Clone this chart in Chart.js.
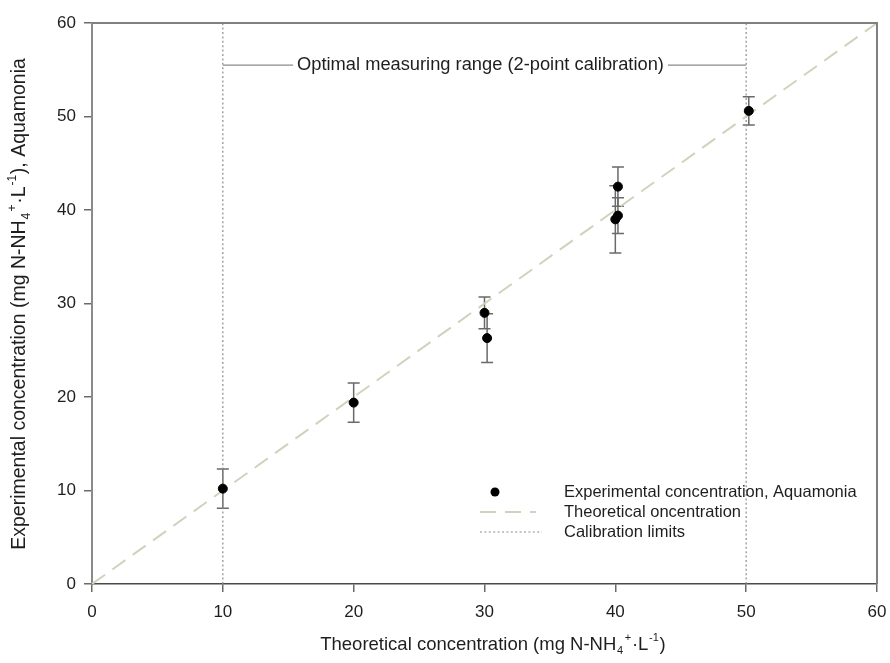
<!DOCTYPE html>
<html>
<head>
<meta charset="utf-8">
<script src="https://cdn.jsdelivr.net/npm/chart.js@4.4.1/dist/chart.umd.min.js"></script>
<style>
  html, body { margin: 0; padding: 0; background: #fff; }
  #wrap { width: 890px; height: 663px; }
</style>
</head>
<body>
<div id="wrap"><canvas id="calibChart" width="890" height="663"></canvas></div>
<script>
// values
const theoX   = [10, 20, 30, 30.2, 40, 40.2, 40.2, 50.2];
const expY    = [10.2, 19.4, 29.0, 26.3, 39.0, 39.4, 42.5, 50.6];
const expErr  = [2.1, 2.1, 1.7, 2.6, 3.6, 1.9, 2.1, 1.5];
const lineX   = [0, 60];
const calibX  = [10, 50];
const rangeY  = 55.5;
const axisTicks = [0, 10, 20, 30, 40, 50, 60];
const legendLabels = ['Experimental concentration, Aquamonia', 'Theoretical oncentration', 'Calibration limits'];
const rangeLabel = 'Optimal measuring range (2-point calibration)';

const FONT = '"Liberation Sans", Arial, sans-serif';
const TXT = '#1e1e1e';

function drawRich(ctx, parts, x, y, size) {
  // parts: [text, kind] kind 0 = normal, 'sub', 'sup'
  var total = 0;
  var small = Math.round(size * 0.62);
  parts.forEach(function(p) {
    if (p[1] === 0) { ctx.font = size + 'px ' + FONT; total += ctx.measureText(p[0]).width; }
    else { ctx.font = small + 'px ' + FONT; total += ctx.measureText(p[0]).width + 1.5; }
  });
  var cx = x - total / 2;
  ctx.textBaseline = 'middle';
  ctx.textAlign = 'left';
  parts.forEach(function(p) {
    if (p[1] === 0) {
      ctx.font = size + 'px ' + FONT;
      ctx.fillText(p[0], cx, y);
      cx += ctx.measureText(p[0]).width;
    } else {
      ctx.font = small + 'px ' + FONT;
      var dy = p[1] === 'sub' ? size * 0.32 : -size * 0.38;
      ctx.fillText(p[0], cx + 0.75, y + dy);
      cx += ctx.measureText(p[0]).width + 1.5;
    }
  });
}

const decorPlugin = {
  id: 'decor',
  beforeDatasetsDraw: function(chart) {
    var ctx = chart.ctx, xs = chart.scales.x, ys = chart.scales.y;
    ctx.save();
    // error bars
    ctx.strokeStyle = '#6a6a6a';
    ctx.lineWidth = 1.5;
    for (var i = 0; i < theoX.length; i++) {
      var px = xs.getPixelForValue(theoX[i]);
      var top = ys.getPixelForValue(expY[i] + expErr[i]);
      var bot = ys.getPixelForValue(expY[i] - expErr[i]);
      ctx.beginPath();
      ctx.moveTo(px, top); ctx.lineTo(px, bot);
      ctx.moveTo(px - 6, top); ctx.lineTo(px + 6, top);
      ctx.moveTo(px - 6, bot); ctx.lineTo(px + 6, bot);
      ctx.stroke();
    }
    // optimal range marker
    var x1 = xs.getPixelForValue(calibX[0]), x2 = xs.getPixelForValue(calibX[1]);
    var yy = ys.getPixelForValue(rangeY);
    ctx.font = '18.3px ' + FONT;
    var tw = ctx.measureText(rangeLabel).width;
    var tc = (x1 + x2) / 2 - 4;
    ctx.strokeStyle = '#8a8a8a';
    ctx.lineWidth = 1.2;
    ctx.beginPath();
    ctx.moveTo(x1, yy); ctx.lineTo(tc - tw / 2 - 4, yy);
    ctx.moveTo(tc + tw / 2 + 4, yy); ctx.lineTo(x2, yy);
    ctx.stroke();
    ctx.fillStyle = TXT;
    ctx.textAlign = 'center';
    ctx.textBaseline = 'middle';
    ctx.fillText(rangeLabel, tc, yy);
    ctx.restore();
  },
  afterDraw: function(chart) {
    var ctx = chart.ctx, a = chart.chartArea;
    ctx.save();
    // frame top and right
    ctx.strokeStyle = '#808080';
    ctx.lineWidth = 2;
    ctx.beginPath();
    ctx.moveTo(a.left, a.top); ctx.lineTo(a.right, a.top); ctx.lineTo(a.right, a.bottom);
    ctx.stroke();

    // legend
    var lx = 480, ty = [492, 512, 532];
    ctx.fillStyle = '#000';
    ctx.beginPath(); ctx.arc(lx + 15, ty[0], 4.5, 0, Math.PI * 2); ctx.fill();
    ctx.strokeStyle = '#d2d2bc'; ctx.lineWidth = 2; ctx.setLineDash([16, 9]);
    ctx.beginPath(); ctx.moveTo(lx, ty[1]); ctx.lineTo(lx + 56, ty[1]); ctx.stroke();
    ctx.strokeStyle = '#8c8c8c'; ctx.lineWidth = 1.2; ctx.setLineDash([2, 2.4]);
    ctx.beginPath(); ctx.moveTo(lx, ty[2]); ctx.lineTo(lx + 62, ty[2]); ctx.stroke();
    ctx.setLineDash([]);
    ctx.fillStyle = TXT;
    ctx.font = '16.5px ' + FONT;
    ctx.textAlign = 'left'; ctx.textBaseline = 'middle';
    legendLabels.forEach(function(t, i) { ctx.fillText(t, 564, ty[i]); });

    // axis titles
    drawRich(ctx, [['Theoretical concentration (mg N-NH', 0], ['4', 'sub'], ['+', 'sup'], ['\u00b7L', 0], ['-1', 'sup'], [')', 0]],
      493, 645, 18.5);
    ctx.translate(20, 304);
    ctx.rotate(-Math.PI / 2);
    drawRich(ctx, [['Experimental concentration (mg N-NH', 0], ['4', 'sub'], ['+', 'sup'], ['\u00b7L', 0], ['-1', 'sup'], ['), Aquamonia', 0]],
      0, 0, 19.5);
    ctx.restore();
  }
};

const ctx = document.getElementById('calibChart').getContext('2d');
const calibChart = new Chart(ctx, {
  type: 'scatter',
  data: {
    datasets: [
      {
        label: legendLabels[1],
        type: 'line',
        data: lineX.map(function(v) { return { x: v, y: v }; }),
        borderColor: '#d2d2bc',
        borderWidth: 2,
        borderDash: [16, 9],
        pointRadius: 0,
        order: 3
      },
      {
        label: legendLabels[2],
        type: 'line',
        data: [{ x: calibX[0], y: axisTicks[0] }, { x: calibX[0], y: axisTicks[6] }],
        borderColor: '#8c8c8c',
        borderWidth: 1.2,
        borderDash: [2, 2.4],
        pointRadius: 0,
        order: 4
      },
      {
        label: legendLabels[2],
        type: 'line',
        data: [{ x: calibX[1], y: axisTicks[0] }, { x: calibX[1], y: axisTicks[6] }],
        borderColor: '#8c8c8c',
        borderWidth: 1.2,
        borderDash: [2, 2.4],
        pointRadius: 0,
        order: 4
      },
      {
        label: legendLabels[0],
        data: theoX.map(function(v, i) { return { x: v, y: expY[i] }; }),
        backgroundColor: '#000',
        borderColor: '#000',
        pointRadius: 4.5,
        order: 1
      }
    ]
  },
  options: {
    responsive: false,
    animation: false,
    layout: { padding: { top: 23, right: 13, left: 0, bottom: 0 } },
    plugins: {
      legend: { display: false },
      tooltip: { enabled: true }
    },
    scales: {
      x: {
        type: 'linear',
        min: axisTicks[0],
        max: axisTicks[axisTicks.length - 1],
        afterFit: function(scale) {
          scale.height = 79;
          scale.paddingLeft = 0;
          scale.paddingRight = 0;
        },
        afterBuildTicks: function(scale) { scale.ticks = axisTicks.map(function(v) { return { value: v }; }); },
        grid: { drawOnChartArea: false, drawTicks: true, tickLength: 8, color: '#6a6a6a', lineWidth: 1.5 },
        border: { display: true, color: '#4a4a4a', width: 1.6 },
        ticks: { color: TXT, font: { family: FONT, size: 17 }, padding: 10, maxRotation: 0 }
      },
      y: {
        type: 'linear',
        min: axisTicks[0],
        max: axisTicks[axisTicks.length - 1],
        afterFit: function(scale) {
          scale.width = 92;
          scale.paddingTop = 0;
          scale.paddingBottom = 0;
        },
        afterBuildTicks: function(scale) { scale.ticks = axisTicks.map(function(v) { return { value: v }; }); },
        grid: { drawOnChartArea: false, drawTicks: true, tickLength: 8, color: '#6a6a6a', lineWidth: 1.5 },
        border: { display: true, color: '#8a8a8a', width: 2 },
        ticks: { color: TXT, font: { family: FONT, size: 17 }, padding: 8 }
      }
    }
  },
  plugins: [decorPlugin]
});
</script>
</body>
</html>
